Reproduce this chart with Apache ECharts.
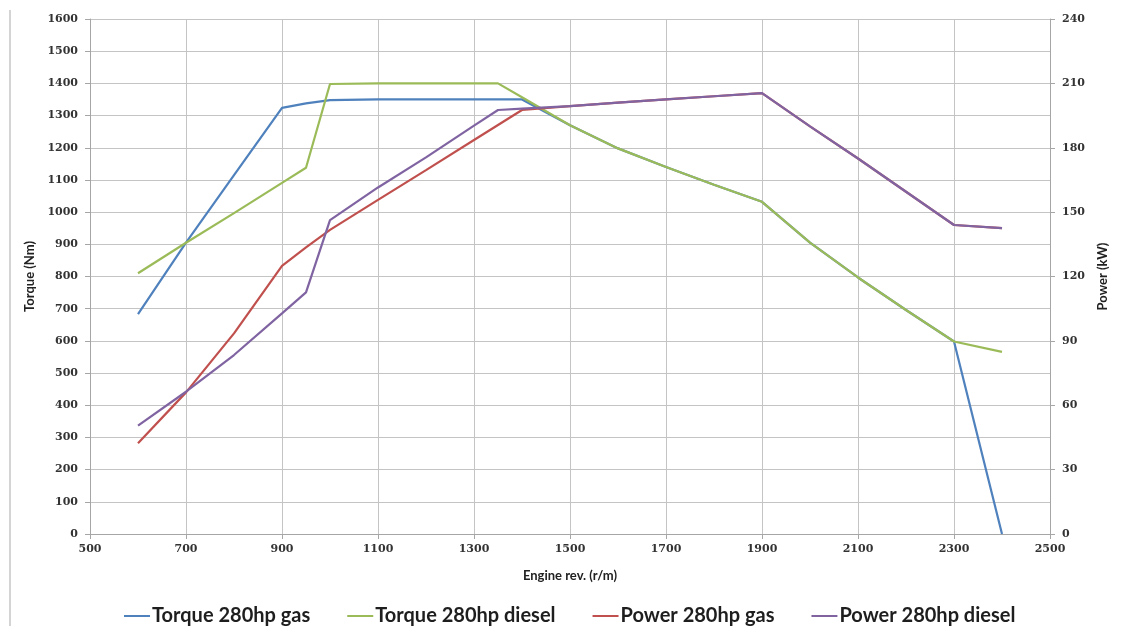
<!DOCTYPE html>
<html>
<head>
<meta charset="utf-8">
<title>Engine torque and power</title>
<script src="https://cdn.jsdelivr.net/npm/echarts@6/dist/echarts.min.js"></script>
<style>
  html, body { margin: 0; padding: 0; background: #fff; }
  #chart { width: 1122px; height: 626px; }
</style>
</head>
<body>
<div id="chart"></div>
<script>
// engine speed (r/m) shared by all series
const rpm = [600, 700, 800, 900, 950, 1000, 1100, 1200, 1300, 1350, 1400,
  1500, 1600, 1700, 1800, 1900, 2000, 2100, 2200, 2300, 2400]

// torque (Nm), left axis
const torqueGas = [683, 905, 1115, 1324, 1338, 1348, 1350, 1350, 1350, 1350, 1350,
  1270, 1198, 1140, 1085, 1032, 905, 797, 696, 598, 0]
const torqueDiesel = [810, 905, 997, 1091, 1138, 1398, 1400, 1400, 1400, 1400, 1357,
  1270, 1198, 1140, 1085, 1032, 905, 797, 696, 598, 566]

// power (kW), right axis
const powerGas = [42.3, 66, 93.5, 125, 133.6, 141.7, 155.7, 169.6, 183.6, 190.6, 197.6,
  199.4, 201, 202.5, 204, 205.5, 190, 175, 159.5, 144, 142.5]
const powerDiesel = [50.5, 66.3, 83.4, 102.8, 112.6, 146.3, 161.5, 175.5, 190.3, 197.6, 198.2,
  199.4, 201, 202.5, 204, 205.5, 190, 175, 159.5, 144, 142.5]

const seriesNames = ['Torque 280hp gas', 'Torque 280hp diesel', 'Power 280hp gas', 'Power 280hp diesel']
const seriesColors = ['#4F81BD', '#9BBB59', '#C0504D', '#8064A2']

function pairs (ys) {
  return rpm.map(function (x, i) { return [x, ys[i]] })
}

// plain numbers, no thousands separator
function plain (v) {
  return String(v)
}

const tickFont = {
  fontFamily: 'DejaVu Serif',
  fontWeight: 'bold',
  fontSize: 11,
  color: '#333',
  formatter: plain
}
const nameFont = {
  fontFamily: 'Lato',
  fontWeight: 'bold',
  fontSize: 13,
  color: '#222'
}
const gridLine = { show: true, lineStyle: { color: '#c4c4c4', width: 1 } }
const axisLine = { show: true, lineStyle: { color: '#a6a6a6', width: 1 } }

let myChart = echarts.init(document.getElementById('chart'), null, { renderer: 'canvas' })

myChart.setOption({
  animation: false,
  backgroundColor: '#fff',
  color: seriesColors,
  grid: {
    left: 90,
    right: 72,
    top: 19,
    bottom: 92,
    containLabel: false
  },
  // left frame edge of the original figure
  graphic: [{
    type: 'line',
    shape: { x1: 10, y1: 10, x2: 10, y2: 626 },
    style: { stroke: '#d4d4d4', lineWidth: 2 }
  }],
  legend: {
    data: seriesNames,
    left: 119,
    top: 601,
    icon: 'rect',
    itemWidth: 26,
    itemHeight: 2,
    itemGap: 37,
    textStyle: {
      fontFamily: 'Lato',
      fontWeight: 'bold',
      fontSize: 20,
      color: '#1e1e1e',
      padding: [0, 0, 0, -3]
    }
  },
  xAxis: {
    type: 'value',
    min: 500,
    max: 2500,
    interval: 200,
    name: 'Engine rev. (r/m)',
    nameLocation: 'middle',
    nameGap: 35,
    nameTextStyle: nameFont,
    axisLine: axisLine,
    axisTick: { show: true, length: 5, lineStyle: { color: '#a6a6a6' } },
    axisLabel: Object.assign({ margin: 10 }, tickFont),
    splitLine: gridLine
  },
  yAxis: [
    {
      type: 'value',
      min: 0,
      max: 1600,
      interval: 100,
      name: 'Torque (Nm)',
      nameLocation: 'middle',
      nameGap: 52,
      nameTextStyle: nameFont,
      axisLine: axisLine,
      axisTick: { show: true, length: 5, lineStyle: { color: '#a6a6a6' } },
      axisLabel: Object.assign({ margin: 12 }, tickFont),
      splitLine: gridLine
    },
    {
      type: 'value',
      min: 0,
      max: 240,
      interval: 30,
      name: 'Power (kW)',
      nameLocation: 'middle',
      nameGap: 44,
      nameTextStyle: nameFont,
      axisLine: axisLine,
      axisTick: { show: true, length: 5, lineStyle: { color: '#a6a6a6' } },
      axisLabel: Object.assign({ margin: 12 }, tickFont),
      splitLine: { show: false }
    }
  ],
  series: [
    {
      name: seriesNames[0],
      type: 'line',
      yAxisIndex: 0,
      data: pairs(torqueGas),
      showSymbol: false,
      lineStyle: { width: 2.2, color: seriesColors[0] },
      z: 3
    },
    {
      name: seriesNames[1],
      type: 'line',
      yAxisIndex: 0,
      data: pairs(torqueDiesel),
      showSymbol: false,
      lineStyle: { width: 2.2, color: seriesColors[1] },
      z: 4
    },
    {
      name: seriesNames[2],
      type: 'line',
      yAxisIndex: 1,
      data: pairs(powerGas),
      showSymbol: false,
      lineStyle: { width: 2.2, color: seriesColors[2] },
      z: 5
    },
    {
      name: seriesNames[3],
      type: 'line',
      yAxisIndex: 1,
      data: pairs(powerDiesel),
      showSymbol: false,
      lineStyle: { width: 2.2, color: seriesColors[3] },
      z: 6
    }
  ]
})

window.addEventListener('resize', function () {
  myChart.resize()
})
</script>
</body>
</html>
